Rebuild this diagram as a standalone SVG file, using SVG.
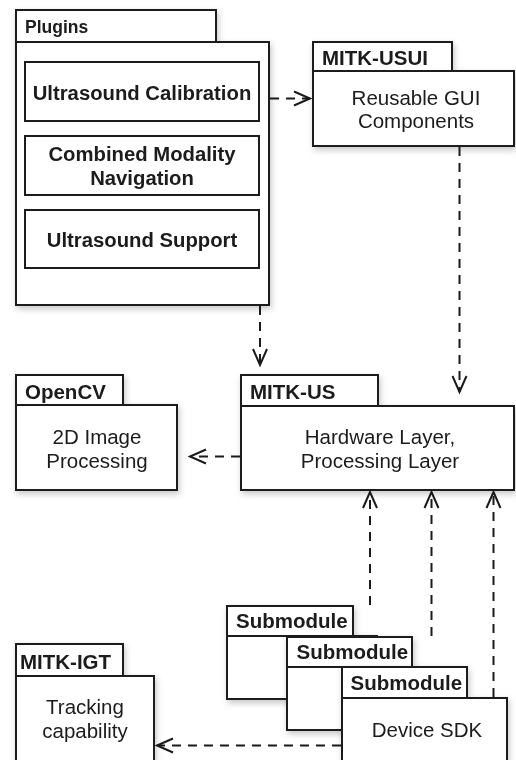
<svg xmlns="http://www.w3.org/2000/svg" width="516" height="760" viewBox="0 0 516 760">
<style>
.box{fill:#fff;stroke:#1a1a1a;stroke-width:2}
.tl{font-family:"Liberation Sans",Arial,Helvetica,sans-serif;font-weight:bold;font-size:20.5px;fill:#1a1a1a}
.tx{font-family:"Liberation Sans",Arial,Helvetica,sans-serif;font-size:20.5px;fill:#1a1a1a;text-anchor:middle}
.bx{font-family:"Liberation Sans",Arial,Helvetica,sans-serif;font-weight:bold;font-size:20.3px;fill:#1a1a1a;text-anchor:middle}
.dep{fill:none;stroke:#1a1a1a;stroke-width:2;stroke-dasharray:9 7;marker-end:url(#arr)}
</style>
<defs>
<filter id="sh" x="-10%" y="-10%" width="130%" height="130%">
<feDropShadow dx="1.5" dy="3" stdDeviation="3" flood-color="#000" flood-opacity="0.22"/>
</filter>
<marker id="arr" markerUnits="userSpaceOnUse" markerWidth="20" markerHeight="18" viewBox="0 0 20 18" refX="17" refY="9" orient="auto">
<path d="M1,2 L17,9 L1,16" fill="none" stroke="#1a1a1a" stroke-width="2"/>
</marker>
</defs>
<g id="plugins" filter="url(#sh)">
<rect class="box" x="16" y="42" width="253" height="263"/>
<rect class="box" x="16" y="10" width="200" height="32"/>
<text class="tl" x="25" y="33" style="font-size:17.5px">Plugins</text>
<rect class="box" x="25" y="62" width="234" height="59"/>
<text class="bx" x="142" y="99.5">Ultrasound Calibration</text>
<rect class="box" x="25" y="136" width="234" height="59"/>
<text class="bx" x="142" y="160.5">Combined Modality</text>
<text class="bx" x="142" y="185">Navigation</text>
<rect class="box" x="25" y="210" width="234" height="58"/>
<text class="bx" x="142" y="246.5">Ultrasound Support</text>
</g>
<g id="mitk-usui" filter="url(#sh)">
<rect class="box" x="313" y="71" width="201" height="75"/>
<rect class="box" x="313" y="42" width="139" height="29"/>
<text class="tl" x="322" y="64.5">MITK-USUI</text>
<text class="tx" x="416" y="104.5">Reusable GUI</text>
<text class="tx" x="416" y="128">Components</text>
</g>
<g id="mitk-us" filter="url(#sh)">
<rect class="box" x="241" y="406" width="273" height="84"/>
<rect class="box" x="241" y="375" width="137" height="31"/>
<text class="tl" x="250" y="398.5">MITK-US</text>
<text class="tx" x="380" y="443.5">Hardware Layer,</text>
<text class="tx" x="380" y="468">Processing Layer</text>
</g>
<g id="opencv" filter="url(#sh)">
<rect class="box" x="16" y="405" width="161" height="85"/>
<rect class="box" x="16" y="375" width="107" height="30"/>
<text class="tl" x="25" y="398.5">OpenCV</text>
<text class="tx" x="97" y="443.5">2D Image</text>
<text class="tx" x="97" y="468">Processing</text>
</g>
<g id="mitk-igt" filter="url(#sh)">
<rect class="box" x="16" y="676" width="138" height="92"/>
<rect class="box" x="16" y="644" width="107" height="32"/>
<text class="tl" x="20" y="668.5">MITK-IGT</text>
<text class="tx" x="85" y="713.5">Tracking</text>
<text class="tx" x="85" y="738">capability</text>
</g>
<g id="submodule1" filter="url(#sh)">
<rect class="box" x="227" y="636" width="150" height="63"/>
<rect class="box" x="227" y="606" width="126" height="30"/>
<text class="tl" x="236" y="628">Submodule</text>
</g>
<g id="submodule2" filter="url(#sh)">
<rect class="box" x="287" y="667" width="120" height="63"/>
<rect class="box" x="287" y="637" width="125" height="30"/>
<text class="tl" x="296.5" y="659">Submodule</text>
</g>
<g id="submodule3" filter="url(#sh)">
<rect class="box" x="342" y="698" width="165" height="70"/>
<rect class="box" x="342" y="667" width="125" height="31"/>
<text class="tl" x="350.5" y="689.5">Submodule</text>
<text class="tx" x="427" y="737">Device SDK</text>
</g>
<g id="connectors">
<path class="dep" d="M270,98.5 H310"/>
<path class="dep" d="M260,306 V365"/>
<path class="dep" d="M459.5,147 V392"/>
<path class="dep" d="M240,456.5 H190"/>
<path class="dep" d="M370,605 V492"/>
<path class="dep" d="M431.5,636 V492"/>
<path class="dep" d="M493.5,697 V492"/>
<path class="dep" d="M341,745.5 H157"/>
</g>
</svg>
